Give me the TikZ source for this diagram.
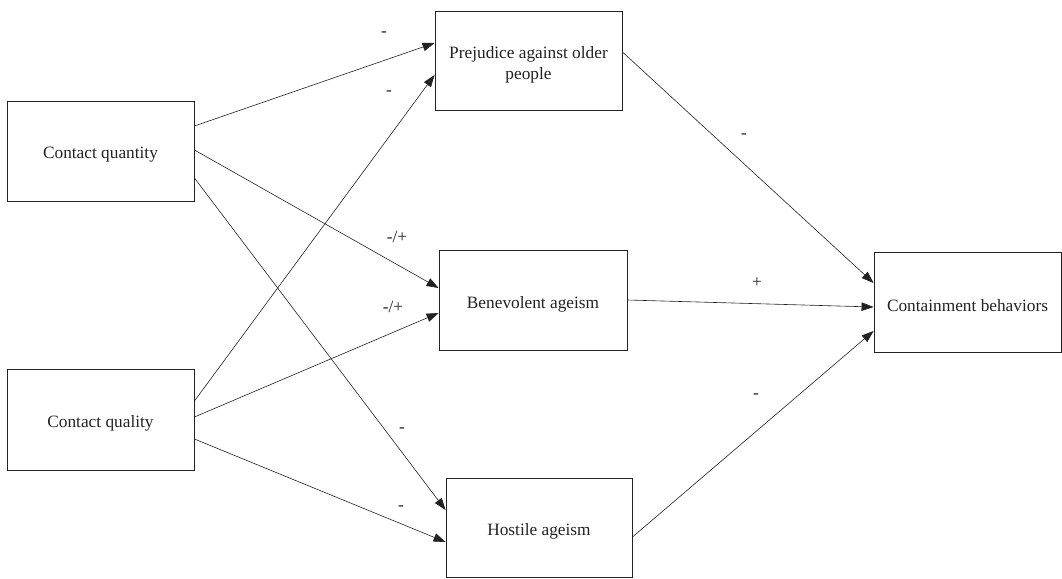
\documentclass[tikz,border=0pt]{standalone}
\usepackage{fontspec}
\setmainfont{Liberation Serif}
\usetikzlibrary{arrows.meta}
\definecolor{ink}{HTML}{222222}
\newcommand{\lowr}[1]{\raisebox{-4pt}[\height][\depth]{#1}}
\begin{document}
\begin{tikzpicture}[x=1pt,y=-1pt,
  box/.style={draw=ink,line width=0.9pt,rectangle,inner sep=0pt,align=center,
    text=ink,font=\fontsize{17.3}{21}\selectfont},
  arr/.style={draw=ink,line width=0.6pt,-{Triangle[length=12pt,width=8.5pt]}},
  lbl/.style={text=ink,inner sep=0pt,font=\fontsize{17.3}{21}\selectfont}]
\useasboundingbox (0,0) rectangle (1062,578);
\node[box,minimum width=187pt,minimum height=100pt] (qn) at (100.5,151) {\lowr{Contact quantity}};
\node[box,minimum width=187pt,minimum height=101pt] (ql) at (100.5,419.5) {\lowr{Contact quality}};
\node[box,minimum width=187pt,minimum height=99pt] (prej) at (528.5,60.5) {\lowr{\begin{tabular}{@{}c@{}}Prejudice against older\\people\end{tabular}}};
\node[box,minimum width=188pt,minimum height=100pt] (ben) at (533,300) {\lowr{Benevolent ageism}};
\node[box,minimum width=186pt,minimum height=99pt] (hos) at (539,527.5) {\lowr{Hostile ageism}};
\node[box,minimum width=187pt,minimum height=100pt] (cont) at (967.5,302) {\lowr{Containment behaviors}};
\draw[arr] ([yshift=25pt]qn.east) -- ([yshift=17.5pt]prej.west);
\draw[arr] ([yshift=1pt]qn.east) -- ([yshift=12pt]ben.west);
\draw[arr] ([yshift=-27pt]qn.east) -- ([yshift=17.5pt]hos.west);
\draw[arr] ([yshift=18.5pt]ql.east) -- ([yshift=-14.5pt]prej.west);
\draw[arr] ([yshift=2.5pt]ql.east) -- ([yshift=-13pt]ben.west);
\draw[arr] ([yshift=-19.5pt]ql.east) -- ([yshift=-14.5pt]hos.west);
\draw[arr] ([yshift=8.5pt]prej.east) -- ([yshift=19pt]cont.west);
\draw[arr] (ben.east) -- ([yshift=-5pt]cont.west);
\draw[arr] ([yshift=-9.5pt]hos.east) -- ([yshift=-29pt]cont.west);
\node[lbl] (l1) at (384,34) {-};
\node[lbl] (l2) at (389,93) {-};
\node[lbl] (l3) at (397,237) {-/+};
\node[lbl] (l4) at (393,307) {-/+};
\node[lbl] (l5) at (402,430) {-};
\node[lbl] (l6) at (401,508) {-};
\node[lbl] (l7) at (744,136) {-};
\node[lbl] (l8) at (757,283) {+};
\node[lbl] (l9) at (756,396) {-};
\end{tikzpicture}
\end{document}
